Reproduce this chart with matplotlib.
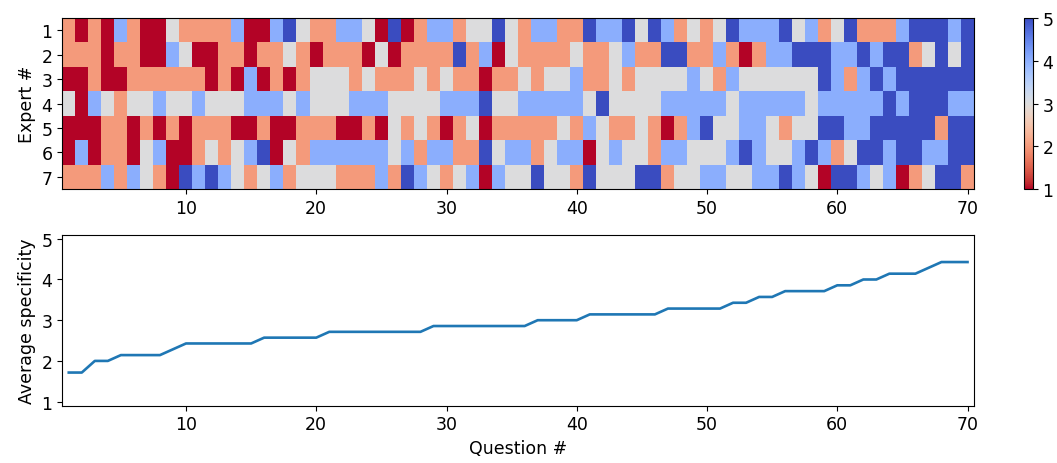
import matplotlib

matplotlib.use("Agg")
import matplotlib.pyplot as plt  # noqa: E402
import numpy as np  # noqa: E402

# specificity ratings (1-5), one list per expert, questions 1..70
EXPERT_1 = [2, 1, 2, 1, 4, 2, 1, 1, 3, 2, 2, 2, 2, 4, 1, 1, 4, 5,
            3, 2, 2, 4, 4, 3, 1, 5, 1, 2, 4, 4, 2, 3, 3, 5, 3, 2,
            4, 4, 2, 2, 5, 4, 4, 5, 3, 5, 4, 2, 3, 2, 3, 5, 4,
            4, 4, 5, 3, 4, 2, 3, 5, 2, 2, 2, 4, 5, 5, 5, 4, 5]
EXPERT_2 = [2, 2, 2, 1, 2, 2, 1, 1, 4, 3, 1, 1, 2, 2, 1, 2, 2, 3,
            2, 1, 2, 2, 2, 1, 3, 1, 2, 2, 2, 2, 5, 2, 4, 1, 3, 2,
            2, 2, 2, 3, 2, 2, 3, 4, 2, 2, 5, 5, 2, 2, 4, 2, 1,
            2, 4, 4, 5, 5, 5, 4, 4, 5, 4, 5, 5, 2, 3, 5, 3, 5]
EXPERT_3 = [1, 1, 2, 1, 1, 2, 2, 2, 2, 2, 2, 1, 2, 1, 4, 1, 2, 1,
            2, 3, 3, 3, 2, 3, 2, 2, 2, 3, 2, 3, 2, 2, 1, 2, 2, 3,
            2, 3, 3, 4, 2, 2, 3, 2, 3, 3, 3, 3, 4, 3, 2, 4, 3,
            3, 3, 3, 3, 3, 5, 4, 2, 4, 5, 4, 5, 5, 5, 5, 5, 5]
EXPERT_4 = [3, 1, 4, 3, 2, 3, 3, 4, 3, 3, 4, 3, 3, 3, 4, 4, 4, 3,
            4, 3, 3, 3, 4, 4, 4, 3, 3, 3, 3, 4, 4, 4, 5, 3, 3, 4,
            4, 4, 4, 4, 3, 5, 3, 3, 3, 3, 4, 4, 4, 4, 4, 3, 4,
            4, 4, 4, 4, 3, 4, 4, 4, 4, 4, 5, 4, 5, 5, 5, 4, 4]
EXPERT_5 = [1, 1, 1, 2, 2, 1, 2, 1, 2, 1, 2, 2, 2, 1, 1, 2, 1, 1,
            2, 2, 2, 1, 1, 2, 1, 3, 2, 3, 2, 1, 2, 3, 1, 2, 2, 2,
            2, 2, 3, 2, 4, 3, 2, 2, 3, 2, 1, 2, 4, 5, 3, 3, 4,
            4, 3, 2, 3, 3, 5, 5, 4, 4, 5, 5, 5, 5, 5, 2, 5, 5]
EXPERT_6 = [1, 4, 1, 2, 2, 1, 3, 4, 1, 1, 2, 3, 2, 3, 4, 5, 1, 3,
            2, 4, 4, 4, 4, 4, 4, 3, 4, 2, 4, 4, 2, 2, 5, 3, 4, 4,
            2, 3, 4, 4, 1, 3, 4, 3, 3, 2, 4, 4, 3, 3, 3, 4, 5,
            4, 3, 3, 4, 5, 4, 2, 3, 5, 5, 4, 5, 5, 4, 4, 5, 5]
EXPERT_7 = [2, 2, 2, 4, 2, 4, 3, 2, 1, 5, 4, 5, 4, 3, 2, 3, 4, 2,
            3, 3, 3, 2, 2, 2, 4, 2, 5, 4, 3, 2, 3, 4, 1, 4, 3, 3,
            5, 3, 3, 2, 5, 3, 3, 3, 5, 5, 2, 3, 3, 4, 4, 3, 3,
            4, 4, 5, 4, 3, 1, 5, 5, 4, 3, 4, 1, 2, 3, 5, 5, 2]

ratings = np.array([EXPERT_1, EXPERT_2, EXPERT_3, EXPERT_4, EXPERT_5, EXPERT_6, EXPERT_7])
n_exp, n_q = ratings.shape
questions = np.arange(1, n_q + 1)
avg = ratings.mean(axis=0)

plt.rcParams["font.size"] = 12.5

fig = plt.figure(figsize=(10.57, 4.64), dpi=100)
ax1 = fig.add_axes([0.0589, 0.5905, 0.8626, 0.3685])
cax = fig.add_axes([0.9688, 0.5905, 0.0082, 0.3685])
ax2 = fig.add_axes([0.0589, 0.1235, 0.8626, 0.3685])

im = ax1.imshow(ratings, cmap="coolwarm_r", vmin=1, vmax=5, aspect="auto",
                interpolation="nearest", extent=[0.5, n_q + 0.5, n_exp + 0.5, 0.5])
ax1.set_yticks(range(1, n_exp + 1))
ax1.set_xticks(range(10, n_q + 1, 10))
ax1.set_ylabel("Expert #")
cb = fig.colorbar(im, cax=cax)
cb.set_ticks([1, 2, 3, 4, 5])

ax2.plot(questions, avg, color="#1f77b4", lw=1.9)
ax2.set_xlim(0.5, n_q + 0.5)
ax2.set_ylim(0.9, 5.1)
ax2.set_yticks([1, 2, 3, 4, 5])
ax2.set_xticks(range(10, n_q + 1, 10))
ax2.set_xlabel("Question #")
ax2.set_ylabel("Average specificity")

fig.savefig("out.png", dpi=100)
plt.close(fig)
